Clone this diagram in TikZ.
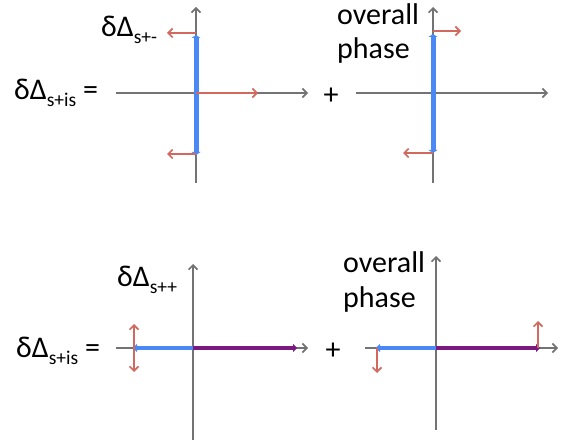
\documentclass[tikz,border=0pt]{standalone}
\usepackage{fontspec}
\setmainfont{Carlito}
\usetikzlibrary{arrows.meta}
\definecolor{axisgray}{HTML}{737373}
\definecolor{vecblue}{HTML}{4A88F6}
\definecolor{vecred}{HTML}{D2685E}
\definecolor{vecpurple}{HTML}{7A1A80}
\newcommand\subs[1]{\raisebox{-7pt}{\fontsize{19.5}{19.5}\selectfont #1}}
\tikzset{
  axisline/.style={draw=axisgray, line width=1.6pt, -{Straight Barb[length=4.5pt,width=9pt]}},
  bluevec/.style={draw=vecblue, line width=5pt},
  purplevec/.style={draw=vecpurple, line width=4pt},
  redvec/.style={draw=vecred, line width=1.6pt, -{Straight Barb[length=4.5pt,width=9pt]}},
  redvecboth/.style={draw=vecred, line width=1.6pt, {Straight Barb[length=4.5pt,width=9pt]}-{Straight Barb[length=4.5pt,width=9pt]}},
  lbl/.style={inner sep=0pt, anchor=base west, font=\fontsize{30}{36}\selectfont},
}
\begin{document}
\begin{tikzpicture}[x=1pt,y=-1pt]
\useasboundingbox (0,0) rectangle (567,443);
% ---------- top-left ----------
\coordinate (a1b) at (196,183); \coordinate (a1t) at (196,7);
\coordinate (h1l) at (116,93);  \coordinate (h1r) at (308,93);
\coordinate (o1) at (196,93);
\coordinate (b1t) at (196,35);  \coordinate (b1b) at (196,155);
\coordinate (r1ts) at (196,33); \coordinate (r1te) at (167,33);
\coordinate (r1me) at (258,93);
\coordinate (r1bs) at (196,154); \coordinate (r1be) at (167,154);
\draw[axisline] (a1b) -- (a1t);
\draw[axisline] (h1l) -- (h1r);
\draw[bluevec, {Triangle[length=3pt,width=9pt]}-{Triangle[length=3pt,width=9pt]}] (b1b) -- (b1t);
\draw[redvec] (r1ts) -- (r1te);
\draw[redvec] (o1) -- (r1me);
\draw[redvec] (r1bs) -- (r1be);
\node[lbl] (t1) at (101,37) {δΔ\subs{s+-}};
\node[lbl] (eq1) at (14,100) {δΔ\subs{s+is} =};
% ---------- top-right ----------
\coordinate (a2b) at (433,183); \coordinate (a2t) at (433,7);
\coordinate (h2l) at (356,93);  \coordinate (h2r) at (548,93);
\coordinate (b2t) at (433,34);  \coordinate (b2b) at (433,153);
\coordinate (r2ts) at (433,31); \coordinate (r2te) at (461,31);
\coordinate (r2bs) at (433,153); \coordinate (r2be) at (403,153);
\draw[axisline] (a2b) -- (a2t);
\draw[axisline] (h2l) -- (h2r);
\draw[bluevec, {Triangle[length=3pt,width=9pt]}-{Triangle[length=3pt,width=9pt]}] (b2b) -- (b2t);
\draw[redvec] (r2ts) -- (r2te);
\draw[redvec] (r2bs) -- (r2be);
\node[font=\fontsize{30}{36}\selectfont, inner sep=0pt] (p1) at (331,96) {+};
\node[lbl] (ov1) at (337,25) {overall};
\node[lbl] (ph1) at (337,59) {phase};
% ---------- bottom-left ----------
\coordinate (a3b) at (193,440); \coordinate (a3t) at (193,264);
\coordinate (h3l) at (116,348); \coordinate (h3r) at (308,348);
\coordinate (o3) at (193,348);
\coordinate (b3e) at (133,348); \coordinate (p3e) at (297,348);
\coordinate (r3t) at (134,324); \coordinate (r3b) at (134,372);
\draw[axisline] (a3b) -- (a3t);
\draw[axisline] (h3l) -- (h3r);
\draw[bluevec, line width=4pt, -{Triangle[length=4pt,width=8pt]}] (o3) -- (b3e);
\draw[purplevec, -{Triangle[length=4pt,width=8pt]}] (o3) -- (p3e);
\draw[redvecboth] (r3b) -- (r3t);
\node[lbl] (t3) at (117,287) {δΔ\subs{s++}};
\node[lbl] (eq3) at (16,357) {δΔ\subs{s+is} =};
% ---------- bottom-right ----------
\coordinate (a4b) at (436,430); \coordinate (a4t) at (436,256);
\coordinate (h4l) at (365,348); \coordinate (h4r) at (558,348);
\coordinate (o4) at (436,348);
\coordinate (b4e) at (376,348); \coordinate (p4e) at (540,348);
\coordinate (r4us) at (538,348); \coordinate (r4ue) at (538,321);
\coordinate (r4ds) at (377,348); \coordinate (r4de) at (377,373);
\draw[axisline] (a4b) -- (a4t);
\draw[axisline] (h4l) -- (h4r);
\draw[bluevec, line width=4pt, -{Triangle[length=4pt,width=8pt]}] (o4) -- (b4e);
\draw[purplevec, -{Triangle[length=4pt,width=8pt]}] (o4) -- (p4e);
\draw[redvec] (r4us) -- (r4ue);
\draw[redvec] (r4ds) -- (r4de);
\node[font=\fontsize{30}{36}\selectfont, inner sep=0pt] (p2) at (333,351) {+};
\node[lbl] (ov2) at (343,273) {overall};
\node[lbl] (ph2) at (343,308) {phase};
\end{tikzpicture}
\end{document}
